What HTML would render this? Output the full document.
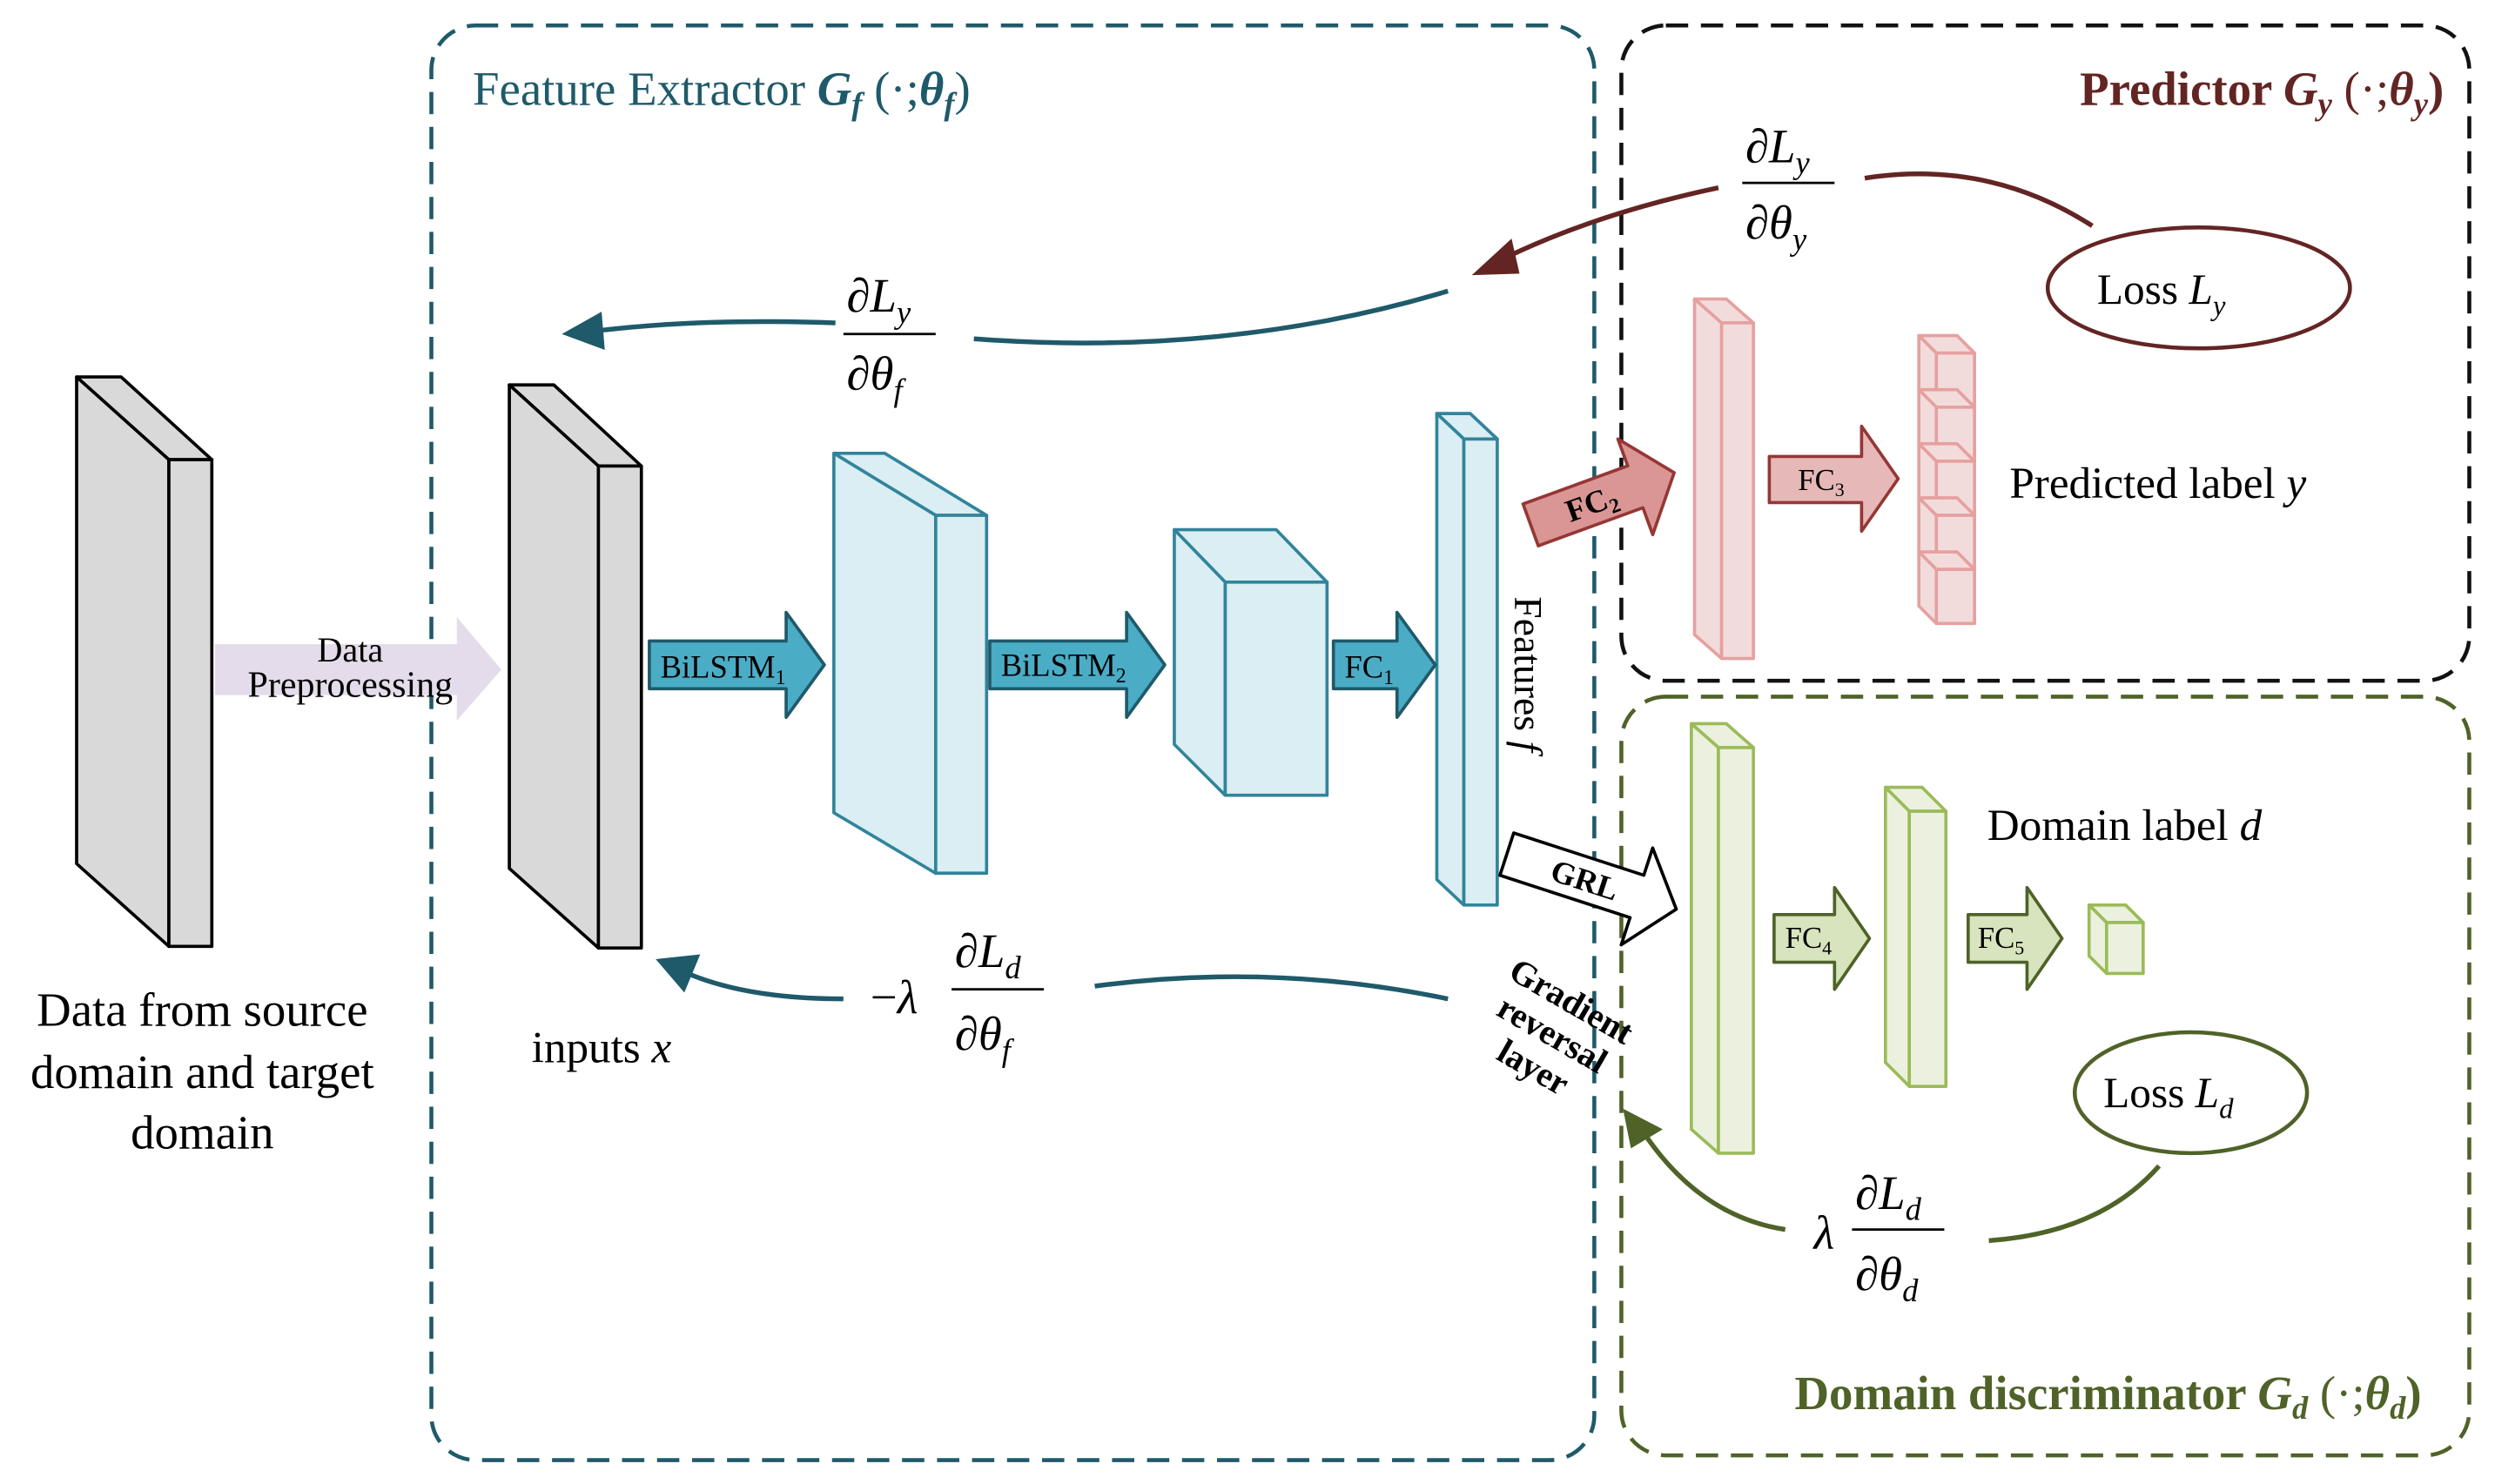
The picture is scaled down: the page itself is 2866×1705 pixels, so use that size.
<!DOCTYPE html>
<html><head><meta charset="utf-8"><style>
html,body{margin:0;padding:0;background:#fff;}
svg{display:block;}
text{font-family:"Liberation Serif",serif;}
</style></head><body>
<svg width="2866" height="1705" viewBox="0 0 1568 933" xmlns="http://www.w3.org/2000/svg">
<rect x="271" y="16" width="731" height="902" rx="28" fill="none" stroke="#1f5a6a" stroke-width="2.5" stroke-dasharray="14,8"/>
<rect x="1019" y="16" width="533" height="412" rx="28" fill="none" stroke="#111" stroke-width="2.5" stroke-dasharray="14,8"/>
<rect x="1019" y="438" width="533" height="477" rx="28" fill="none" stroke="#4f6228" stroke-width="2.5" stroke-dasharray="14,8"/>

<g fill="#d9d9d9" stroke="#000" stroke-width="2" stroke-linejoin="round">
<polygon points="48,237 76,237 133,289 106,289"/>
<polygon points="48,237 106,289 106,595 48,543"/>
<rect x="106" y="289" width="27" height="306"/>
<polygon points="320,242 348,242 403,293 376,293"/>
<polygon points="320,242 376,293 376,596 320,546"/>
<rect x="376" y="293" width="27" height="303"/>
</g>
<g fill="#daeef3" stroke="#31849b" stroke-width="2" stroke-linejoin="round">
<polygon points="524,285 556,285 620,324 588,324"/>
<polygon points="524,285 588,324 588,549 524,511"/>
<rect x="588" y="324" width="32" height="225"/>
<polygon points="738,333 802,333 834,366 770,366"/>
<polygon points="738,333 770,366 770,500 738,468"/>
<rect x="770" y="366" width="64" height="134"/>
<polygon points="903,260 924,260 941,276 920,276"/>
<polygon points="903,260 920,276 920,569 903,553"/>
<rect x="920" y="276" width="21" height="293"/>
</g>
<g fill="#f2dcdb" stroke="#e6a0a0" stroke-width="2" stroke-linejoin="round">
<polygon points="1065,188 1085,188 1102,203 1082,203"/>
<polygon points="1065,188 1082,203 1082,414 1065,399"/>
<rect x="1082" y="203" width="20" height="211"/>
<g id="pc">
<polygon points="1206,211 1230,211 1241,222 1217,222"/>
<polygon points="1206,211 1217,222 1217,256 1206,245"/>
<rect x="1217" y="222" width="24" height="34"/>
</g>
<use href="#pc" y="34"/><use href="#pc" y="68"/><use href="#pc" y="102"/><use href="#pc" y="136"/>
</g>
<g fill="#ebf1de" stroke="#9bbb59" stroke-width="2" stroke-linejoin="round">
<polygon points="1063,455 1085,455 1102,470 1080,470"/>
<polygon points="1063,455 1080,470 1080,725 1063,710"/>
<rect x="1080" y="470" width="22" height="255"/>
<polygon points="1185,495 1208,495 1223,510 1200,510"/>
<polygon points="1185,495 1200,510 1200,683 1185,668"/>
<rect x="1200" y="510" width="23" height="173"/>
<polygon points="1313,569 1336,569 1347,580 1324,580"/>
<polygon points="1313,569 1324,580 1324,612 1313,601"/>
<rect x="1324" y="580" width="23" height="32"/>
</g>

<polygon points="135,405 287,405 287,388 315,421 287,453 287,437 135,437" fill="#e4dcea"/>
<text x="220" y="416" font-size="22" text-anchor="middle">Data</text>
<text x="220" y="438" font-size="23" text-anchor="middle">Preprocessing</text>

<g fill="#4bacc6" stroke="#1f5a6a" stroke-width="2" stroke-linejoin="round">
<polygon points="408,403 494,403 494,385 518,418 494,451 494,433 408,433"/>
<polygon points="622,403 708,403 708,385 732,418 708,451 708,433 622,433"/>
<polygon points="838,403 878,403 878,385 902,418 878,451 878,433 838,433"/>
</g>
<text x="415" y="426" font-size="20">BiLSTM<tspan font-size="13" dy="4">1</tspan></text>
<text x="629" y="425" font-size="20">BiLSTM<tspan font-size="13" dy="4">2</tspan></text>
<text x="845" y="426" font-size="20">FC<tspan font-size="13" dy="4">1</tspan></text>

<g transform="translate(962,330) rotate(-20)">
<polygon points="0,-14 70,-14 70,-32 96,0 70,32 70,14 0,14" fill="#d99694" stroke="#953735" stroke-width="2" stroke-linejoin="round"/>
<text x="24" y="7" font-size="20" font-weight="bold">FC<tspan font-size="13" dy="4">2</tspan></text>
</g>
<polygon points="1112,287 1170,287 1170,268 1193,301 1170,334 1170,316 1112,316" fill="#e6b9b8" stroke="#953735" stroke-width="2" stroke-linejoin="round"/>
<text x="1130" y="308" font-size="19">FC<tspan font-size="12" dy="4">3</tspan></text>

<g transform="translate(947,537) rotate(18)">
<polygon points="0,-14 86,-14 86,-32 112,0 86,32 86,14 0,14" fill="#fff" stroke="#000" stroke-width="2" stroke-linejoin="round"/>
<text x="30" y="7" font-size="20" font-weight="bold">GRL</text>
</g>
<g fill="#d7e4bd" stroke="#4f6228" stroke-width="2" stroke-linejoin="round">
<polygon points="1115,575 1153,575 1153,558 1175,590 1153,622 1153,605 1115,605"/>
<polygon points="1237,575 1274,575 1274,558 1296,590 1274,622 1274,605 1237,605"/>
</g>
<text x="1122" y="596" font-size="19">FC<tspan font-size="12" dy="4">4</tspan></text>
<text x="1243" y="596" font-size="19">FC<tspan font-size="12" dy="4">5</tspan></text>

<ellipse cx="1382" cy="181" rx="95" ry="38" fill="#fff" stroke="#632523" stroke-width="2.5"/>
<ellipse cx="1377" cy="687" rx="73" ry="38" fill="#fff" stroke="#4f6228" stroke-width="2.5"/>
<text x="1318" y="191" font-size="27">Loss <tspan font-style="italic">L</tspan><tspan font-style="italic" font-size="18" dy="7">y</tspan></text>
<text x="1322" y="696" font-size="27">Loss <tspan font-style="italic">L</tspan><tspan font-style="italic" font-size="18" dy="7">d</tspan></text>

<path d="M1315,142 Q1250,100 1172,112" fill="none" stroke="#632523" stroke-width="3"/>
<path d="M1080,118 Q1000,135 940,165" fill="none" stroke="#632523" stroke-width="3"/>
<polygon points="925,173 950,150 955,172" fill="#632523"/>
<path d="M910,183 Q770,225 612,213" fill="none" stroke="#1f5a6a" stroke-width="3"/>
<path d="M525,203 Q440,200 375,208" fill="none" stroke="#1f5a6a" stroke-width="3"/>
<polygon points="353,210 378,196 380,220" fill="#1f5a6a"/>
<path d="M910,628 Q800,605 688,620" fill="none" stroke="#1f5a6a" stroke-width="3"/>
<path d="M530,628 Q470,628 432,612" fill="none" stroke="#1f5a6a" stroke-width="3"/>
<polygon points="412,603 440,600 430,624" fill="#1f5a6a"/>
<path d="M1357,733 Q1320,775 1250,780" fill="none" stroke="#4f6228" stroke-width="3"/>
<path d="M1122,773 Q1070,765 1035,715" fill="none" stroke="#4f6228" stroke-width="3"/>
<polygon points="1020,697 1045,710 1025,722" fill="#4f6228"/>

<text x="297" y="66" font-size="30" fill="#1f5a6a">Feature Extractor <tspan font-weight="bold" font-style="italic">G<tspan font-size="20" dy="6">f</tspan></tspan><tspan dy="-6"> (·;</tspan><tspan font-weight="bold" font-style="italic">θ<tspan font-size="20" dy="6">f</tspan></tspan><tspan dy="-6">)</tspan></text>
<text x="1536" y="66" font-size="30" fill="#632523" font-weight="bold" text-anchor="end">Predictor <tspan font-style="italic">G<tspan font-size="20" dy="6">y</tspan></tspan><tspan dy="-6" font-weight="normal"> (·;</tspan><tspan font-style="italic">θ<tspan font-size="20" dy="6">y</tspan></tspan><tspan dy="-6">)</tspan></text>
<text x="1522" y="886" font-size="30" fill="#4f6228" font-weight="bold" text-anchor="end">Domain discriminator <tspan font-style="italic">G<tspan font-size="20" dy="6">d</tspan></tspan><tspan dy="-6" font-weight="normal"> (·;</tspan><tspan font-style="italic">θ<tspan font-size="20" dy="6">d</tspan></tspan><tspan dy="-6">)</tspan></text>

<g font-size="30" font-style="italic">
<text x="1097" y="102">∂L<tspan font-size="20" dy="7">y</tspan></text>
<line x1="1095" y1="115" x2="1153" y2="115" stroke="#000" stroke-width="1.5"/>
<text x="1097" y="150">∂θ<tspan font-size="20" dy="7">y</tspan></text>

<text x="532" y="196">∂L<tspan font-size="20" dy="7">y</tspan></text>
<line x1="530" y1="210" x2="588" y2="210" stroke="#000" stroke-width="1.5"/>
<text x="532" y="245">∂θ<tspan font-size="20" dy="7">f</tspan></text>

<text x="547" y="637" font-style="normal">−<tspan font-style="italic">λ</tspan></text>
<text x="600" y="608">∂L<tspan font-size="20" dy="7">d</tspan></text>
<line x1="598" y1="622" x2="656" y2="622" stroke="#000" stroke-width="1.5"/>
<text x="600" y="660">∂θ<tspan font-size="20" dy="7">f</tspan></text>

<text x="1140" y="785">λ</text>
<text x="1166" y="760">∂L<tspan font-size="20" dy="7">d</tspan></text>
<line x1="1164" y1="773" x2="1222" y2="773" stroke="#000" stroke-width="1.5"/>
<text x="1166" y="811">∂θ<tspan font-size="20" dy="7">d</tspan></text>
</g>

<text x="127" y="645" font-size="30" text-anchor="middle">Data from source</text>
<text x="127" y="684" font-size="30" text-anchor="middle">domain and target</text>
<text x="127" y="722" font-size="30" text-anchor="middle">domain</text>
<text x="334" y="668" font-size="28">inputs <tspan font-style="italic">x</tspan></text>
<text x="1263" y="313" font-size="28">Predicted label <tspan font-style="italic">y</tspan></text>
<text x="1249" y="528" font-size="28">Domain label <tspan font-style="italic">d</tspan></text>
<text transform="translate(952,375) rotate(90)" font-size="25">Features <tspan font-style="italic">f</tspan></text>
<g font-size="22" font-weight="bold" transform="rotate(30 970 660)">
<text x="970" y="632" text-anchor="middle">Gradient</text>
<text x="970" y="656" text-anchor="middle">reversal</text>
<text x="970" y="680" text-anchor="middle">layer</text>
</g>
</svg>
</body></html>
